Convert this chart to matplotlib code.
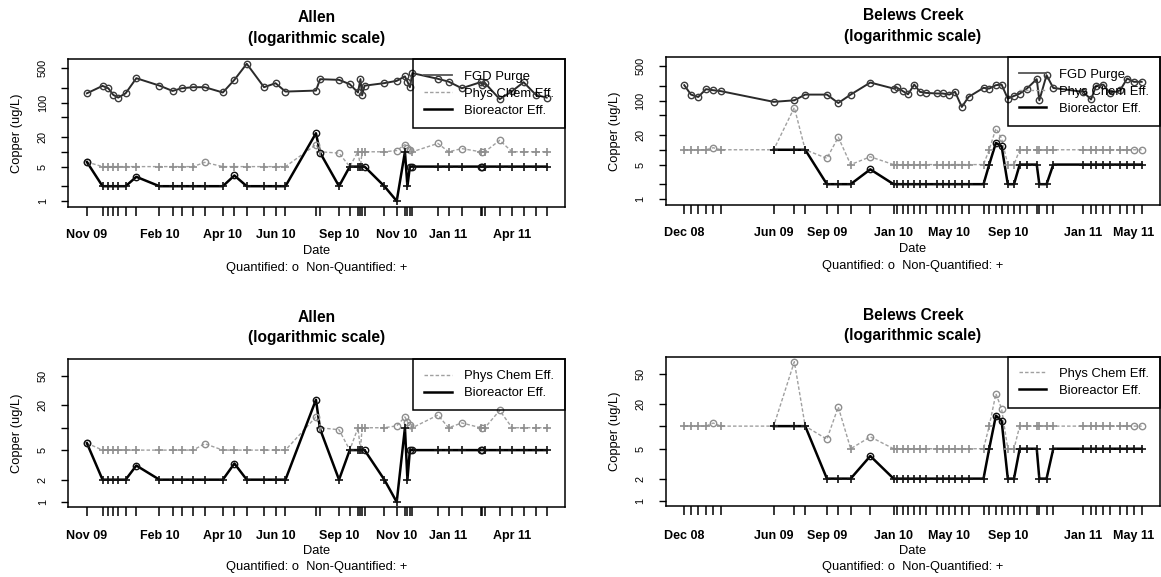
import numpy as np
import matplotlib
matplotlib.use('Agg')
import matplotlib.pyplot as plt
import matplotlib.dates as mdates
from matplotlib.lines import Line2D
from matplotlib.ticker import NullLocator
import pandas as pd

plt.rcParams['font.family'] = ['Liberation Sans', 'DejaVu Sans']

# ---------------- Allen ----------------
allen_dates = pd.to_datetime([
    '2009-11-09', '2009-11-28', '2009-12-05', '2009-12-11', '2009-12-17', '2009-12-26', '2010-01-08',
    '2010-02-05', '2010-02-21', '2010-03-04', '2010-03-18', '2010-04-01', '2010-04-23', '2010-05-07',
    '2010-05-22', '2010-06-12', '2010-06-26', '2010-07-08', '2010-08-14', '2010-08-19', '2010-09-11',
    '2010-09-24', '2010-10-04', '2010-10-07', '2010-10-09', '2010-10-12', '2010-11-05', '2010-11-20',
    '2010-11-30', '2010-12-03', '2010-12-06', '2010-12-09', '2011-01-09', '2011-01-22', '2011-02-07',
    '2011-03-02', '2011-03-04', '2011-03-07', '2011-03-25', '2011-04-09', '2011-04-23', '2011-05-08',
    '2011-05-21'])
allen_fgd = [154, 218, 195, 143, 126, 154, 312, 221, 172, 195, 205, 205, 160, 289, 613, 205, 247, 167,
             175, 298, 289, 236, 160, 300, 140, 220, 248, 276, 340, 266, 205, 396, 303, 266, 195,
             260, 230, 250, 117, 170, 259, 143, 126]
allen_pc = [6.2, 5, 5, 5, 5, 5, 5, 5, 5, 5, 5, 6.1, 5, 5, 5, 5, 5, 5,
            14, 10, 9.4, 5, 10, 5, 10, 10, 10, 10.6, 14, 12, 11, 10, 14.8, 10, 11.6,
            10, 10, 10, 17.1, 10, 10, 10, 10]
allen_pc_q = [1, 0, 0, 0, 0, 0, 0, 0, 0, 0, 0, 1, 0, 0, 0, 0, 0, 0,
              1, 0, 1, 0, 0, 0, 0, 0, 0, 1, 1, 1, 1, 0, 1, 0, 1,
              0, 1, 0, 1, 0, 0, 0, 0]
allen_bio = [6.2, 2, 2, 2, 2, 2, 3.1, 2, 2, 2, 2, 2, 2, 3.3, 2, 2, 2, 2,
             23.8, 9.6, 2, 5, 5, 5, 5, 5, 2, 1, 10, 2, 5, 5, 5, 5, 5,
             5, 5, 5, 5, 5, 5, 5, 5]
allen_bio_q = [1, 0, 0, 0, 0, 0, 1, 0, 0, 0, 0, 0, 0, 1, 0, 0, 0, 0,
               1, 1, 0, 0, 0, 0, 0, 1, 0, 0, 0, 0, 1, 1, 0, 0, 0,
               1, 1, 0, 0, 0, 0, 0, 0]
allen_label_dates = pd.to_datetime(['2009-11-09', '2010-02-05', '2010-04-23', '2010-06-26',
                                    '2010-09-11', '2010-11-20', '2011-01-22', '2011-04-09'])

# ---------------- Belews Creek ----------------
belews_dates = pd.to_datetime([
    '2008-12-15', '2008-12-28', '2009-01-11', '2009-01-26', '2009-02-09', '2009-02-24',
    '2009-06-06', '2009-07-16', '2009-08-06', '2009-09-17', '2009-10-09', '2009-11-02', '2009-12-10',
    '2010-01-24', '2010-01-30', '2010-02-11', '2010-02-21', '2010-03-05', '2010-03-16', '2010-03-28',
    '2010-04-18', '2010-04-29', '2010-05-12', '2010-05-23', '2010-06-05', '2010-06-18', '2010-07-17',
    '2010-07-28', '2010-08-10', '2010-08-21', '2010-09-02', '2010-09-14', '2010-09-25', '2010-10-09',
    '2010-10-28', '2010-11-02', '2010-11-16', '2010-11-29', '2011-01-26', '2011-02-10', '2011-02-20',
    '2011-03-06', '2011-03-19', '2011-04-07', '2011-04-21', '2011-05-04', '2011-05-19'])
belews_fgd = [205, 132, 118, 170, 162, 155,
              94, 101, 132, 132, 89, 132, 232,
              175, 184, 155, 134, 211, 150, 143,
              139, 139, 132, 150, 74, 118, 181,
              175, 205, 211, 109, 124, 138, 175,
              272, 101, 327, 180, 150, 105, 200,
              210, 140, 160, 280, 240, 240]
belews_pc = [10, 10, 10, 10, 11, 10,
             10, 72, 10, 6.7, 18, 5, 7.2,
             5, 5, 5, 5, 5, 5, 5, 5, 5, 5, 5, 5, 5, 5,
             10, 27, 17, 5, 5, 10, 10, 10, 10, 10, 10,
             10, 10, 10, 10, 10, 10, 10, 10, 10]
belews_pc_q = [0, 0, 0, 0, 1, 0,
               0, 1, 0, 1, 1, 0, 1,
               0, 0, 0, 0, 0, 0, 0, 0, 0, 0, 0, 0, 0, 0,
               0, 1, 1, 0, 0, 0, 0, 0, 0, 0, 0,
               0, 0, 0, 0, 0, 0, 0, 1, 1]
belews_bio = [np.nan, np.nan, np.nan, np.nan, np.nan, np.nan,
              10, 10, 10, 2, 2, 2, 4,
              2, 2, 2, 2, 2, 2, 2, 2, 2, 2, 2, 2, 2, 2,
              5, 13.8, 11.8, 2, 2, 5, 5, 5, 2, 2, 5,
              5, 5, 5, 5, 5, 5, 5, 5, 5]
belews_bio_q = [0, 0, 0, 0, 0, 0,
                0, 0, 0, 0, 0, 0, 1,
                0, 0, 0, 0, 0, 0, 0, 0, 0, 0, 0, 0, 0, 0,
                0, 1, 1, 0, 0, 0, 0, 0, 0, 0, 0,
                0, 0, 0, 0, 0, 0, 0, 0, 0]
belews_label_dates = pd.to_datetime(['2008-12-15', '2009-06-06', '2009-09-17', '2010-01-24',
                                     '2010-05-12', '2010-09-02', '2011-01-26', '2011-05-04'])

top_ticks = [1, 2, 5, 10, 20, 50, 100, 200, 500]
top_ticklabels = ['1', '', '5', '', '20', '', '100', '', '500']
bot_ticks = [1, 2, 5, 10, 20, 50]
bot_ticklabels = ['1', '2', '5', '', '20', '50']

FGD_C = '#2a2a2a'
PC_C = '#a0a0a0'
BIO_C = '#000000'


def series(ax, dates, vals, quant, color, lw, ls, mec):
    vals = np.array(vals, dtype=float)
    ax.plot(dates, vals, color=color, lw=lw, ls=ls, zorder=2)
    if quant is None:
        quant = np.ones(len(vals))
    q = np.array(quant) == 1
    ax.plot(dates[q], vals[q], 'o', mfc='none', mec=mec, ms=4.6, mew=1.0, zorder=3)
    ax.plot(dates[~q], vals[~q], '+', color=mec, ms=6, mew=1.2, zorder=3)


def panel(ax, title, dates, label_dates, fgd, pc, pc_q, bio, bio_q, ylog, yticks, ylabels, xpad):
    if fgd is not None:
        series(ax, dates, fgd, None, FGD_C, 1.4, '-', '#3c3c3c')
    series(ax, dates, pc, pc_q, PC_C, 1.0, (0, (2.5, 1.5)), '#8e8e8e')
    series(ax, dates, bio, bio_q, BIO_C, 1.8, '-', '#111111')

    ax.set_yscale('log')
    ax.set_ylim(10 ** ylog[0], 10 ** ylog[1])
    ax.set_yticks(yticks)
    ax.set_yticklabels(ylabels, rotation=90, va='center')
    ax.yaxis.set_minor_locator(NullLocator())
    ax.tick_params(axis='y', direction='out', length=5, width=1, labelsize=7.8, pad=10)

    span = dates.max() - dates.min()
    ax.set_xlim(dates.min() - 0.04 * span, dates.max() + 0.04 * span)
    ax.xaxis.remove_overlapping_locs = False
    ax.set_xticks(mdates.date2num(dates))
    ax.set_xticklabels([])
    ax.set_xticks(mdates.date2num(label_dates), minor=True)
    ax.set_xticklabels([d.strftime('%b %y') for d in label_dates], minor=True,
                       fontsize=9, fontweight='bold')
    ax.tick_params(axis='x', which='major', direction='out', length=6.5, width=1.1)
    ax.tick_params(axis='x', which='minor', length=0, pad=xpad)

    for s in ax.spines.values():
        s.set_linewidth(1.1)

    ax.set_title(title, fontsize=11.2, fontweight='bold', linespacing=1.45, pad=12)
    ax.set_ylabel('Copper (ug/L)', fontsize=9.3)
    ax.yaxis.set_label_coords(-0.092, 0.5)
    ax.text(0.5, -0.30, 'Date', transform=ax.transAxes, ha='center', va='center', fontsize=9.3)
    ax.text(0.5, -0.41, 'Quantified: o  Non-Quantified: +', transform=ax.transAxes,
            ha='center', va='center', fontsize=9.3)

    handles, names = [], []
    if fgd is not None:
        handles.append(Line2D([], [], color='#555555', lw=1.3))
        names.append('FGD Purge')
    handles.append(Line2D([], [], color=PC_C, lw=1.0, ls=(0, (2.5, 1.5))))
    names.append('Phys Chem Eff.')
    handles.append(Line2D([], [], color=BIO_C, lw=1.8))
    names.append('Bioreactor Eff.')
    leg = ax.legend(handles, names, loc='upper right', bbox_to_anchor=(1, 1), borderaxespad=0,
                    fancybox=False, edgecolor='black', framealpha=1, fontsize=9.4,
                    handlelength=2.1, handletextpad=0.95, labelspacing=0.38, borderpad=0.85)
    leg.get_frame().set_facecolor('none')
    leg.get_frame().set_linewidth(1.1)


fig = plt.figure(figsize=(11.61, 5.77), dpi=100)
ax1 = fig.add_axes([0.0590, 0.6412, 0.4277, 0.2560])
ax2 = fig.add_axes([0.5736, 0.6447, 0.4255, 0.2560])
ax3 = fig.add_axes([0.0590, 0.1218, 0.4277, 0.2560])
ax4 = fig.add_axes([0.5736, 0.1231, 0.4255, 0.2588])

top_ylog = (-0.122, 2.878)
bot_ylog = (-0.063, 1.925)

panel(ax1, 'Allen\n(logarithmic scale)', allen_dates, allen_label_dates, allen_fgd,
      allen_pc, allen_pc_q, allen_bio, allen_bio_q, top_ylog, top_ticks, top_ticklabels, 15.5)
panel(ax2, 'Belews Creek\n(logarithmic scale)', belews_dates, belews_label_dates, belews_fgd,
      belews_pc, belews_pc_q, belews_bio, belews_bio_q, top_ylog, top_ticks, top_ticklabels, 15.5)
panel(ax3, 'Allen\n(logarithmic scale)', allen_dates, allen_label_dates, None,
      allen_pc, allen_pc_q, allen_bio, allen_bio_q, bot_ylog, bot_ticks, bot_ticklabels, 17)
panel(ax4, 'Belews Creek\n(logarithmic scale)', belews_dates, belews_label_dates, None,
      belews_pc, belews_pc_q, belews_bio, belews_bio_q, bot_ylog, bot_ticks, bot_ticklabels, 17)

fig.savefig('out.png', dpi=100)
